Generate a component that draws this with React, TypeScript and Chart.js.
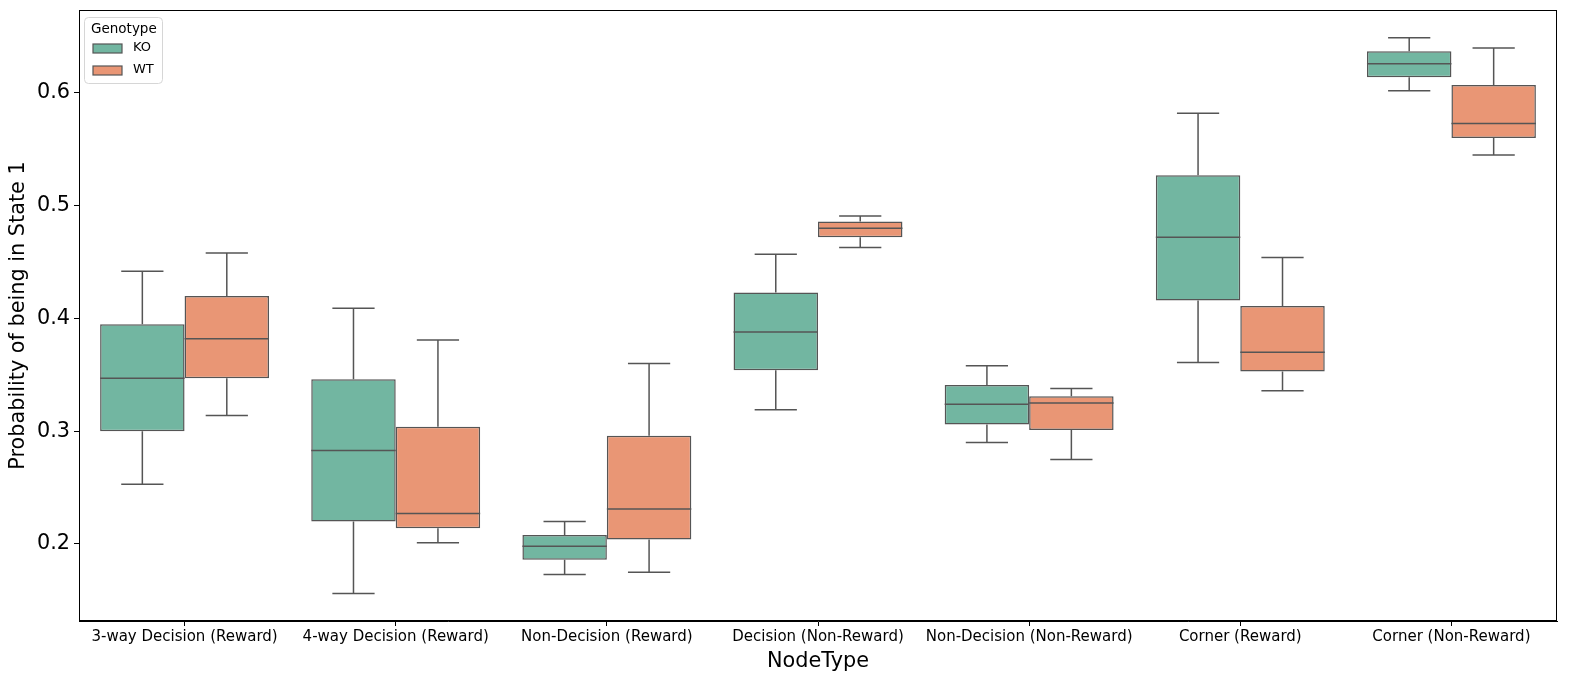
import React, { useEffect, useRef } from "react";
import { Chart, registerables } from "chart.js";

Chart.register(...registerables);

const categories = [
  "3-way Decision (Reward)",
  "4-way Decision (Reward)",
  "Non-Decision (Reward)",
  "Decision (Non-Reward)",
  "Non-Decision (Non-Reward)",
  "Corner (Reward)",
  "Corner (Non-Reward)",
];

const koMin = [0.253, 0.156, 0.173, 0.319, 0.290, 0.361, 0.602];
const koQ1 = [0.300, 0.220, 0.186, 0.354, 0.306, 0.416, 0.614];
const koMedian = [0.347, 0.283, 0.198, 0.388, 0.324, 0.472, 0.626];
const koQ3 = [0.395, 0.346, 0.208, 0.423, 0.341, 0.527, 0.637];
const koMax = [0.442, 0.409, 0.220, 0.457, 0.358, 0.582, 0.649];

const wtMin = [0.314, 0.201, 0.175, 0.463, 0.275, 0.336, 0.545];
const wtQ1 = [0.347, 0.214, 0.204, 0.472, 0.301, 0.353, 0.560];
const wtMedian = [0.382, 0.227, 0.231, 0.480, 0.325, 0.370, 0.573];
const wtQ3 = [0.420, 0.304, 0.296, 0.486, 0.331, 0.411, 0.607];
const wtMax = [0.458, 0.381, 0.360, 0.491, 0.338, 0.454, 0.640];

const yTicks = [0.2, 0.3, 0.4, 0.5, 0.6];

const KO_COLOR = "#72b6a1";
const WT_COLOR = "#e99675";
const EDGE = "#555555";
const FONT = "DejaVu Sans";

const stats = [
  { min: koMin, median: koMedian, max: koMax },
  { min: wtMin, median: wtMedian, max: wtMax },
];

const boxPlugin = {
  id: "boxWhiskers",
  afterDatasetsDraw(chart: any) {
    const ctx = chart.ctx;
    const y = chart.scales.y;
    ctx.save();
    ctx.strokeStyle = EDGE;
    ctx.lineWidth = 1.5;
    chart.data.datasets.forEach((ds: any, di: number) => {
      const meta = chart.getDatasetMeta(di);
      const s = stats[di];
      meta.data.forEach((bar: any, i: number) => {
        const props = bar.getProps(["x", "y", "base", "width"], true);
        const cx = props.x;
        const w = props.width;
        const top = Math.min(props.y, props.base);
        const bot = Math.max(props.y, props.base);
        const yMed = y.getPixelForValue(s.median[i]);
        const yMax = y.getPixelForValue(s.max[i]);
        const yMin = y.getPixelForValue(s.min[i]);
        ctx.beginPath();
        ctx.moveTo(cx - w / 2, yMed);
        ctx.lineTo(cx + w / 2, yMed);
        ctx.moveTo(cx, top);
        ctx.lineTo(cx, yMax);
        ctx.moveTo(cx, bot);
        ctx.lineTo(cx, yMin);
        ctx.moveTo(cx - w / 4, yMax);
        ctx.lineTo(cx + w / 4, yMax);
        ctx.moveTo(cx - w / 4, yMin);
        ctx.lineTo(cx + w / 4, yMin);
        ctx.stroke();
      });
    });
    ctx.restore();
  },
  afterDraw(chart: any) {
    const ctx = chart.ctx;
    const a = chart.chartArea;
    ctx.save();
    ctx.strokeStyle = "#000";
    ctx.lineWidth = 1;
    ctx.strokeRect(a.left + 0.5, a.top + 0.5, a.right - a.left - 1, a.bottom - a.top - 1);

    // legend
    const lx = a.left + 5;
    const ly = a.top + 7;
    const lw = 78;
    const lh = 66;
    ctx.beginPath();
    ctx.roundRect(lx + 0.5, ly + 0.5, lw, lh, 4);
    ctx.fillStyle = "rgba(255,255,255,0.8)";
    ctx.fill();
    ctx.strokeStyle = "#d6d6d6";
    ctx.lineWidth = 1;
    ctx.stroke();
    ctx.fillStyle = "#000";
    ctx.font = `13.5px "${FONT}"`;
    ctx.textBaseline = "middle";
    ctx.textAlign = "left";
    ctx.fillText("Genotype", lx + 7, ly + 12);
    chart.data.datasets.forEach((ds: any, di: number) => {
      const cy = ly + 31 + di * 22;
      ctx.fillStyle = ds.backgroundColor;
      ctx.fillRect(lx + 9, cy - 4, 29, 9);
      ctx.strokeStyle = EDGE;
      ctx.lineWidth = 1.2;
      ctx.strokeRect(lx + 9, cy - 4, 29, 9);
      ctx.fillStyle = "#000";
      ctx.font = `13px "${FONT}"`;
      ctx.fillText(ds.label, lx + 49, cy);
    });
    ctx.restore();
  },
};

export default function App() {
  const ref = useRef<HTMLCanvasElement>(null);
  useEffect(() => {
    document.body.style.margin = "0";
    const canvas = ref.current!;
    const chart = new Chart(canvas, {
      type: "bar",
      data: {
        labels: categories,
        datasets: [
          {
            label: "KO",
            data: koQ1.map((q, i) => [q, koQ3[i]]),
            backgroundColor: KO_COLOR,
            borderColor: EDGE,
            borderWidth: 1.5,
            borderSkipped: false,
            categoryPercentage: 0.8,
            barPercentage: 1.0,
          },
          {
            label: "WT",
            data: wtQ1.map((q, i) => [q, wtQ3[i]]),
            backgroundColor: WT_COLOR,
            borderColor: EDGE,
            borderWidth: 1.5,
            borderSkipped: false,
            categoryPercentage: 0.8,
            barPercentage: 1.0,
          },
        ] as any,
      },
      options: {
        animation: false,
        responsive: false,
        devicePixelRatio: 1,
        layout: { padding: { left: 0, top: 10, right: 33, bottom: 0 } },
        plugins: {
          legend: { display: false },
          tooltip: { enabled: false },
        },
        scales: {
          x: {
            grid: {
              offset: false,
              drawOnChartArea: false,
              drawTicks: true,
              tickLength: 5,
              color: "#000",
            },
            border: { display: true, color: "#000", width: 1 },
            ticks: {
              color: "#000",
              font: { family: FONT, size: 15 },
              padding: 2,
              maxRotation: 0,
              autoSkip: false,
            },
            title: {
              display: true,
              text: "NodeType",
              color: "#000",
              font: { family: FONT, size: 20.8 },
              padding: { top: 2, bottom: 16 },
            },
            afterFit(scale: any) {
              scale.height = 69;
              scale.paddingLeft = 0;
              scale.paddingRight = 0;
              scale.paddingTop = 0;
              scale.paddingBottom = 0;
            },
          },
          y: {
            min: 0.1317,
            max: 0.6736,
            afterBuildTicks(scale: any) {
              scale.ticks = yTicks.map((v) => ({ value: v }));
            },
            grid: {
              drawOnChartArea: false,
              drawTicks: true,
              tickLength: 5,
              color: "#000",
            },
            border: { display: true, color: "#000", width: 1 },
            ticks: {
              color: "#000",
              font: { family: FONT, size: 20.8 },
              padding: 4,
              callback: (v: any) => Number(v).toFixed(1),
            },
            title: {
              display: true,
              text: "Probability of being in State 1",
              color: "#000",
              font: { family: FONT, size: 20.8 },
              padding: { top: 6, bottom: 4 },
            },
            afterFit(scale: any) {
              scale.width = 79;
              scale.paddingLeft = 0;
              scale.paddingRight = 0;
              scale.paddingTop = 0;
              scale.paddingBottom = 0;
            },
          },
        },
      },
      plugins: [boxPlugin],
    });
    return () => chart.destroy();
  }, []);
  return <canvas ref={ref} width={1590} height={690} style={{ display: "block" }} />;
}
